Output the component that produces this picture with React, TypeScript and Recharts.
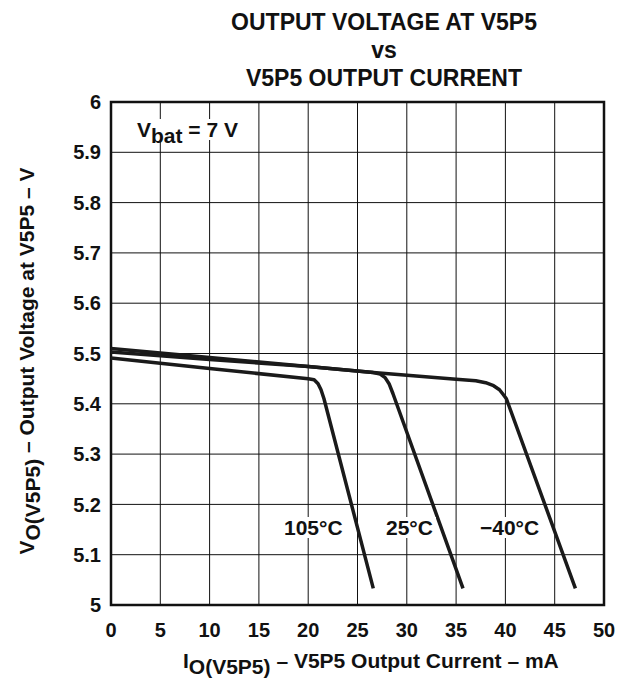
import { LineChart, Line, XAxis, YAxis, CartesianGrid, ReferenceArea } from "recharts";

// I (mA) / V (V)
const cold = [
  { i: 0, v: 5.503 }, { i: 10, v: 5.488 }, { i: 20, v: 5.474 }, { i: 26.6, v: 5.462 },
  { i: 35, v: 5.449 }, { i: 37, v: 5.446 }, { i: 38, v: 5.442 }, { i: 38.8, v: 5.436 },
  { i: 39.4, v: 5.428 }, { i: 39.8, v: 5.418 }, { i: 40.1, v: 5.41 }, { i: 47.1, v: 5.033 },
];
const room = [
  { i: 0, v: 5.51 }, { i: 10, v: 5.492 }, { i: 20, v: 5.474 }, { i: 26.6, v: 5.462 },
  { i: 27.3, v: 5.459 }, { i: 27.8, v: 5.452 }, { i: 28.2, v: 5.44 }, { i: 28.6, v: 5.42 },
  { i: 35.7, v: 5.033 },
];
const hot = [
  { i: 0, v: 5.491 }, { i: 10, v: 5.47 }, { i: 20, v: 5.45 }, { i: 20.6, v: 5.448 },
  { i: 21.0, v: 5.44 }, { i: 21.3, v: 5.428 }, { i: 21.6, v: 5.41 }, { i: 26.6, v: 5.033 },
];
const xTicks = [0, 5, 10, 15, 20, 25, 30, 35, 40, 45, 50];
const yTicks = [5, 5.1, 5.2, 5.3, 5.4, 5.5, 5.6, 5.7, 5.8, 5.9, 6];

const font = "'Liberation Sans', Arial, sans-serif";
const tickStyle = { fontSize: 20, fontWeight: 700, fill: "#111", fontFamily: font };

const abs = (left: number, top: number, extra: React.CSSProperties = {}): React.CSSProperties => ({
  position: "absolute",
  left,
  top,
  fontFamily: font,
  fontWeight: 700,
  fontSize: 21,
  lineHeight: "21px",
  color: "#111",
  whiteSpace: "nowrap",
  ...extra,
});

const Sub = ({ children }: { children: React.ReactNode }) => (
  <span style={{ position: "relative", top: 6 }}>{children}</span>
);

export default function App() {
  return (
    <div style={{ position: "absolute", left: 0, top: 0, width: 623, height: 679, background: "#fff" }}>
      <LineChart width={623} height={679} margin={{ top: 102, right: 19, bottom: 44, left: 0 }}>
        <CartesianGrid stroke="#111" strokeWidth={1} />
        <XAxis
          type="number"
          dataKey="i"
          domain={[0, 50]}
          ticks={xTicks}
          height={30}
          tickLine={false}
          axisLine={false}
          tick={tickStyle}
          tickMargin={12}
        />
        <YAxis
          type="number"
          domain={[5, 6]}
          ticks={yTicks}
          width={111}
          tickLine={false}
          axisLine={false}
          tick={tickStyle}
          tickMargin={4}
          tickFormatter={(v: number) => String(Math.round(v * 10) / 10)}
        />
        <ReferenceArea x1={0} x2={50} y1={5} y2={6} fill="none" stroke="#111" strokeWidth={2.5} />
        <Line data={cold} dataKey="v" type="linear" stroke="#1a1a1a" strokeWidth={3.5} strokeLinejoin="round" dot={false} isAnimationActive={false} />
        <Line data={room} dataKey="v" type="linear" stroke="#1a1a1a" strokeWidth={3.5} strokeLinejoin="round" dot={false} isAnimationActive={false} />
        <Line data={hot} dataKey="v" type="linear" stroke="#1a1a1a" strokeWidth={3.5} strokeLinejoin="round" dot={false} isAnimationActive={false} />
      </LineChart>

      <div style={abs(0, 8, { width: 768, textAlign: "center", fontSize: 23, lineHeight: "28px" })}>
        OUTPUT VOLTAGE AT V5P5
        <br />
        vs
        <br />
        V5P5 OUTPUT CURRENT
      </div>

      <div style={abs(135, 119, { background: "#fff", padding: "0 2px" })}>
        V<Sub>bat</Sub> = 7 V
      </div>

      <div style={abs(281, 517, { background: "#fff", padding: "0 3px" })}>105°C</div>
      <div style={abs(383, 517, { background: "#fff", padding: "0 3px" })}>25°C</div>
      <div style={abs(477, 517, { background: "#fff", padding: "0 3px" })}>−40°C</div>

      <div style={abs(183, 650)}>
        I<Sub>O(V5P5)</Sub> – V5P5 Output Current – mA
      </div>

      <div
        style={abs(26, 361, {
          transform: "translate(-50%, -50%) rotate(-90deg)",
        })}
      >
        V<Sub>O(V5P5)</Sub> – Output Voltage at V5P5 – V
      </div>
    </div>
  );
}
